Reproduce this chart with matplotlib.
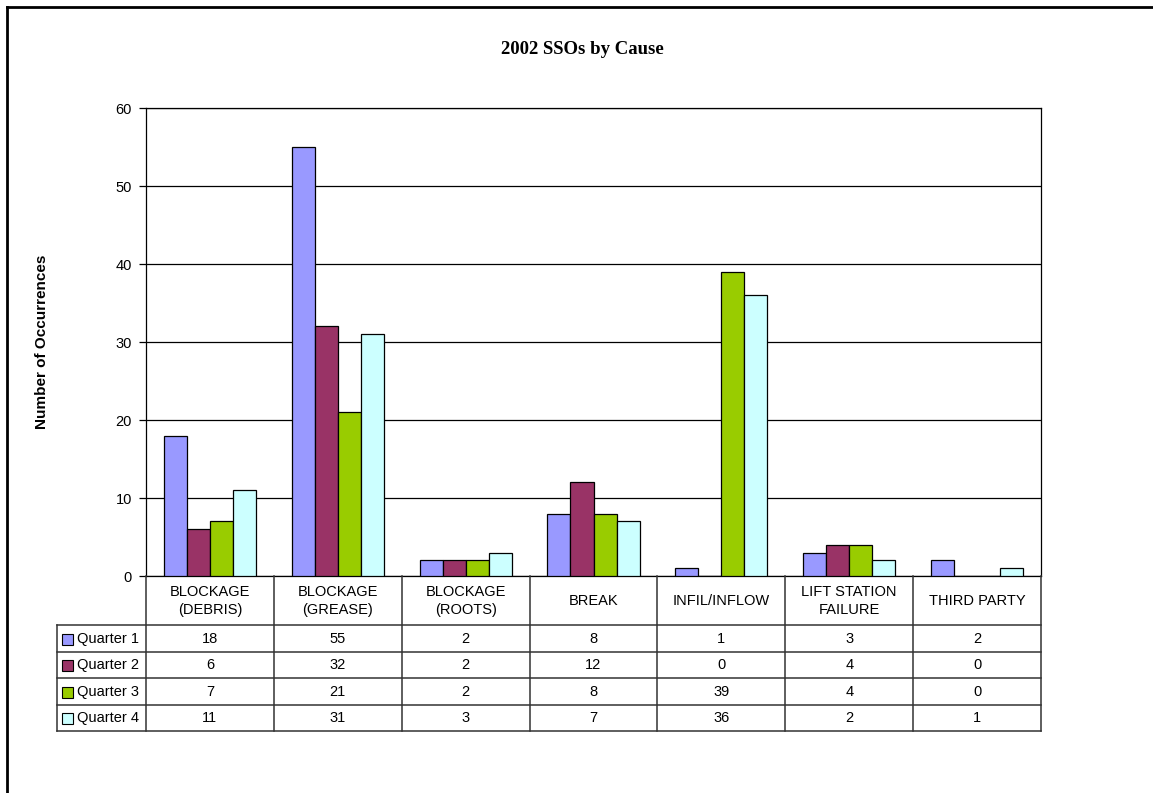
import numpy as np
import matplotlib
matplotlib.use("Agg")
import matplotlib.pyplot as plt
from matplotlib.patches import Rectangle

# chart data
causes = ["BLOCKAGE\n(DEBRIS)", "BLOCKAGE\n(GREASE)", "BLOCKAGE\n(ROOTS)", "BREAK",
          "INFIL/INFLOW", "LIFT STATION\nFAILURE", "THIRD PARTY"]
series_names = ["Quarter 1", "Quarter 2", "Quarter 3", "Quarter 4"]
q1 = [18, 55, 2, 8, 1, 3, 2]
q2 = [6, 32, 2, 12, 0, 4, 0]
q3 = [7, 21, 2, 8, 39, 4, 0]
q4 = [11, 31, 3, 7, 36, 2, 1]
colors = ["#9999FF", "#993366", "#99CC00", "#CCFFFF"]

plt.rcParams['font.family'] = ['Liberation Sans', 'DejaVu Sans']
FS = 10.5

W, H = 1153, 793
fig = plt.figure(figsize=(W / 100, H / 100), dpi=100)

def px_rect(x0, y0, x1, y1):
    # pixel box (top-left origin) -> figure fraction
    return [x0 / W, 1 - y1 / H, (x1 - x0) / W, (y1 - y0) / H]

# outer frame (only top/left visible in the reference)
fig.add_artist(plt.Line2D([7 / W, 7 / W], [0, 1 - 7 / H], transform=fig.transFigure,
                          color="black", lw=2))
fig.add_artist(plt.Line2D([7 / W, 1], [1 - 7 / H, 1 - 7 / H], transform=fig.transFigure,
                          color="black", lw=2))

L, R, T, B = 146, 1041, 108, 576
ax = fig.add_axes(px_rect(L, T, R, B))
n = len(causes)
x = np.arange(n) + 0.5
bw = 0.18
all_series = [q1, q2, q3, q4]
for i, (vals, c) in enumerate(zip(all_series, colors)):
    ax.bar(x + (i - 1.5) * bw, vals, width=bw, color=c, edgecolor="black", lw=0.9, zorder=3)

ax.set_xlim(0, n)
ax.set_ylim(0, 60)
ax.set_yticks(range(0, 61, 10))
ax.yaxis.grid(True, color="black", lw=0.9, zorder=0)
ax.set_axisbelow(True)
ax.set_xticks([])
ax.tick_params(axis="y", direction="out", length=5, width=0.9, labelsize=FS, pad=5)
for s in ax.spines.values():
    s.set_linewidth(0.9)
ax.set_ylabel("Number of Occurrences", fontsize=11, fontweight="bold")
ax.yaxis.set_label_coords((49 - L) / (R - L), 0.5)

fig.text(582 / W, 1 - 49 / H, "2002 SSOs by Cause", ha="center", va="center",
         fontsize=13.5, fontweight="bold", family="Liberation Serif")

# data table underneath
TL, TB = 57, 731
rows = [576, 625, 652, 678, 705, 731]
tax = fig.add_axes(px_rect(TL, B, R, TB))
tax.set_xlim(-(L - TL) / ((R - L) / n), n)
tax.set_ylim(TB, B)
tax.axis("off")
xl = tax.get_xlim()[0]
unit = (R - L) / n
lk = dict(color="#333333", lw=1.1, clip_on=False)
for yy in rows[1:]:
    tax.plot([xl, n], [yy, yy], **lk)
for k in range(n + 1):
    tax.plot([k, k], [rows[0], rows[-1]], **lk)
tax.plot([xl, xl], [rows[1], rows[-1]], **lk)

for k, c in enumerate(causes):
    tax.text(k + 0.5, (rows[0] + rows[1]) / 2 + 0.5, c, ha="center", va="center",
             fontsize=FS, linespacing=1.4)
sq = 11 / unit
for r, (name, vals, c) in enumerate(zip(series_names, all_series, colors)):
    yc = (rows[r + 1] + rows[r + 2]) / 2
    tax.add_patch(Rectangle((xl + 5 / unit, yc - 5), sq, 11,
                            facecolor=c, edgecolor="black", lw=0.8, clip_on=False))
    tax.text(xl + 20 / unit, yc, name, ha="left", va="center", fontsize=FS)
    for k, v in enumerate(vals):
        tax.text(k + 0.5, yc, str(v), ha="center", va="center", fontsize=FS)

fig.savefig("out.png", dpi=100)
